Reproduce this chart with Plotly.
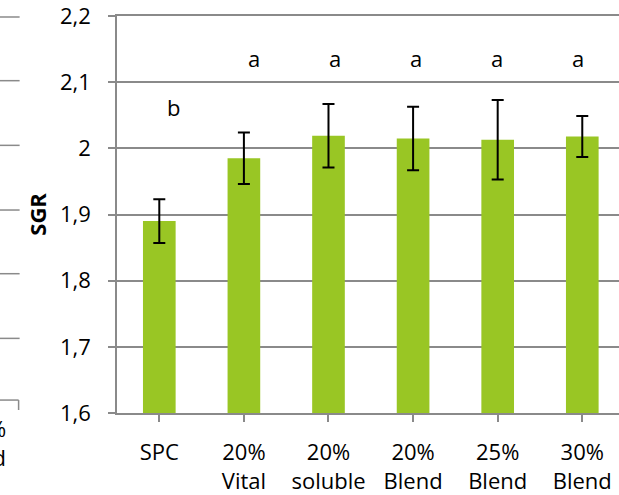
import plotly.graph_objects as go

# Specific growth rate per diet, with standard deviation and significance letters
categories = ["SPC", "20%<br>Vital", "20%<br>soluble", "20%<br>Blend", "25%<br>Blend", "30%<br>Blend"]
sgr_mean = [1.890, 1.985, 2.019, 2.015, 2.013, 2.018]
sgr_sd = [0.033, 0.039, 0.048, 0.048, 0.060, 0.031]
letters = ["b", "a", "a", "a", "a", "a"]
letter_y = [2.062, 2.137, 2.137, 2.137, 2.137, 2.137]
y_ticks = [1.6, 1.7, 1.8, 1.9, 2.0, 2.1, 2.2]

FONT = "Open Sans"
GRID = "#8a8a8a"
x_idx = list(range(len(categories)))

T, B = 16, 80            # top / bottom margins in px
PH = 495 - T - B         # plot height in px


def py_to_paper(py):
    """Convert a pixel row to paper y."""
    return 1 - (py - T) / PH


fig = go.Figure()
fig.add_trace(go.Bar(
    x=x_idx,
    y=sgr_mean,
    width=0.386,
    marker=dict(color="#99C624", line=dict(width=0)),
    error_y=dict(type="data", array=sgr_sd, visible=True,
                 color="#000000", thickness=2, width=6),
    showlegend=False,
))

annotations = []
for i, (lab, ly) in enumerate(zip(letters, letter_y)):
    annotations.append(dict(
        x=i + 0.17 - 0.045 * i, y=ly, xref="x", yref="y",
        text=lab, showarrow=False,
        font=dict(family=FONT, size=22, color="#000000"),
        xanchor="center", yanchor="middle",
    ))

# y-axis title
annotations.append(dict(
    x=-0.161, y=1.9, xref="paper", yref="y",
    text="<b>SGR</b>", textangle=-90, showarrow=False,
    font=dict(family=FONT, size=22, color="#000000"),
    xanchor="center", yanchor="middle",
))

# edge of the neighbouring panel on the left
annotations.append(dict(
    x=-0.217, y=py_to_paper(413), xref="paper", yref="paper",
    text="30%<br>Blend", showarrow=False, align="right",
    font=dict(family=FONT, size=22, color="#000000"),
    xanchor="right", yanchor="top",
))
shapes = []
side_grid = [17, 81, 146, 211, 275, 340]
for py in side_grid:
    yp = py_to_paper(py)
    shapes.append(dict(type="line", xref="paper", yref="paper",
                       x0=-0.235, x1=-0.194, y0=yp, y1=yp,
                       line=dict(color=GRID, width=1.5)))
yb = py_to_paper(402)
shapes.append(dict(type="line", xref="paper", yref="paper",
                   x0=-0.235, x1=-0.196, y0=yb, y1=yb,
                   line=dict(color=GRID, width=1.5)))
shapes.append(dict(type="line", xref="paper", yref="paper",
                   x0=-0.196, x1=-0.196, y0=yb, y1=py_to_paper(412),
                   line=dict(color=GRID, width=1.5)))

fig.update_layout(
    width=619, height=495,
    margin=dict(l=117, r=0, t=T, b=B),
    paper_bgcolor="#ffffff", plot_bgcolor="#ffffff",
    separators=", ",
    font=dict(family=FONT, size=22, color="#000000"),
    annotations=annotations,
    shapes=shapes,
    bargap=0.6,
)
fig.update_xaxes(
    tickmode="array", tickvals=x_idx, ticktext=categories,
    range=[-0.5, 5.434],
    showgrid=False, zeroline=False,
    showline=True, linecolor=GRID, linewidth=1.5, mirror=True,
    ticks="outside", ticklen=7, tickcolor=GRID, tickwidth=1.5,
    tickson="boundaries",
    ticklabelstandoff=12,
    tickfont=dict(family=FONT, size=22, color="#000000"),
)
fig.update_yaxes(
    range=[1.6, 2.2],
    tickmode="array", tickvals=y_ticks,
    showgrid=True, gridcolor=GRID, gridwidth=1.5,
    zeroline=False,
    showline=True, linecolor=GRID, linewidth=1.5,
    ticks="outside", ticklen=7, tickcolor=GRID, tickwidth=1.5,
    ticklabelstandoff=13,
    ticklabeloverflow="allow",
    tickfont=dict(family=FONT, size=22, color="#000000"),
)

fig.write_html("out.html")
